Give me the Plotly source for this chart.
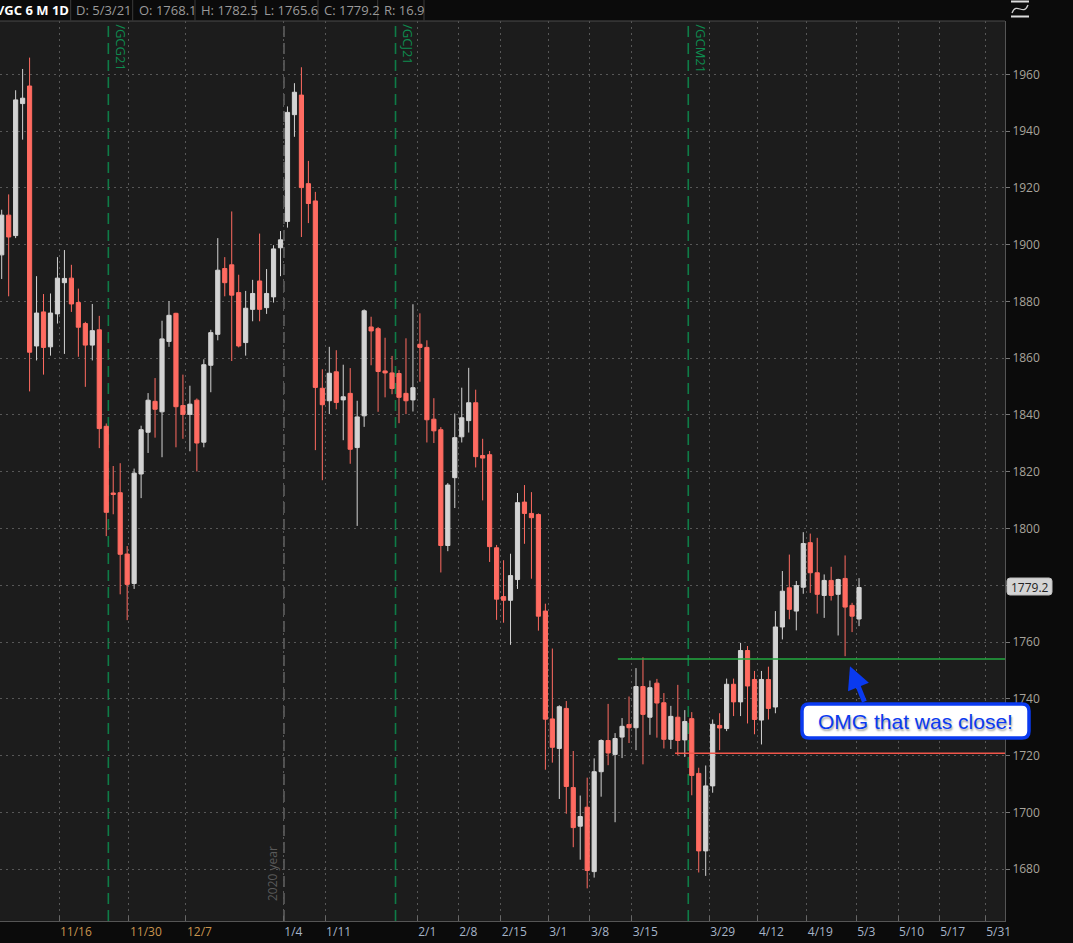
import plotly.graph_objects as go
import pandas as pd

# ---------------- data ----------------
holidays = ["2020-11-26", "2020-12-25", "2021-01-01", "2021-01-18", "2021-02-15", "2021-04-02"]
dates = pd.bdate_range("2020-11-03", periods=124, freq="C", holidays=holidays).strftime("%-m/%-d/%y").tolist()

opens = [1896.4, 1910.4, 1903.2, 1949.7, 1955.9, 1864.3, 1876.3, 1864.0, 1875.6, 1886.6,
         1888.2, 1879.6, 1872.2, 1864.6, 1870.0, 1836.0, 1812.5, 1812.6, 1791.0, 1780.6,
         1819.2, 1833.9, 1844.8, 1841.1, 1865.9, 1875.8, 1843.3, 1840.2, 1845.2, 1830.4,
         1857.5, 1868.4, 1891.6, 1892.9, 1883.1, 1865.5, 1877.2, 1887.2, 1877.8, 1881.6,
         1898.9, 1908.2, 1945.8, 1952.7, 1921.5, 1915.4, 1849.4, 1845.0, 1855.2, 1845.3,
         1847.6, 1828.5, 1839.7, 1871.0, 1870.4, 1855.5, 1854.8, 1854.6, 1847.6, 1845.3,
         1864.9, 1863.8, 1838.5, 1834.8, 1794.0, 1817.9, 1832.3, 1838.0, 1844.3, 1825.7,
         1826.0, 1793.2, 1776.0, 1774.7, 1782.0, 1809.3, 1805.3, 1804.9, 1770.9, 1732.9,
         1722.5, 1736.6, 1708.7, 1695.1, 1701.8, 1679.1, 1714.3, 1725.3, 1720.4, 1726.5,
         1730.9, 1729.8, 1744.3, 1733.5, 1745.5, 1738.6, 1725.7, 1733.5, 1725.5, 1733.0,
         1713.7, 1686.4, 1709.3, 1730.6, 1729.5, 1745.1, 1738.9, 1757.0, 1746.8, 1732.5,
         1746.8, 1737.1, 1765.3, 1779.1, 1770.9, 1779.3, 1795.0, 1784.4, 1776.4, 1781.7,
         1776.8, 1782.4, 1772.9, 1768.1]
highs = [1912.3, 1917.7, 1954.4, 1961.9, 1965.9, 1888.9, 1882.6, 1882.8, 1895.6, 1898.1,
         1892.9, 1884.5, 1872.8, 1879.1, 1874.9, 1837.0, 1822.0, 1823.0, 1793.8, 1821.1,
         1836.2, 1847.7, 1853.0, 1873.2, 1880.1, 1876.0, 1854.2, 1850.3, 1845.8, 1859.6,
         1870.0, 1902.3, 1895.6, 1911.7, 1889.4, 1883.7, 1887.6, 1903.9, 1891.4, 1899.8,
         1904.8, 1948.7, 1956.9, 1962.5, 1929.5, 1918.6, 1856.1, 1864.0, 1862.8, 1857.7,
         1856.5, 1845.0, 1877.2, 1874.6, 1871.0, 1867.2, 1860.8, 1855.8, 1867.0, 1879.0,
         1875.8, 1866.3, 1845.9, 1835.7, 1816.0, 1840.5, 1849.6, 1856.6, 1848.9, 1831.6,
         1827.3, 1794.2, 1788.8, 1791.1, 1812.5, 1815.3, 1812.8, 1805.3, 1773.5, 1757.7,
         1737.7, 1739.2, 1721.6, 1705.9, 1712.2, 1719.0, 1725.7, 1738.2, 1727.9, 1733.2,
         1740.8, 1750.8, 1754.6, 1746.4, 1747.0, 1742.0, 1737.5, 1744.9, 1736.0, 1735.3,
         1715.7, 1716.5, 1732.7, 1734.9, 1747.1, 1747.1, 1759.7, 1758.6, 1749.8, 1749.8,
         1751.3, 1770.9, 1785.0, 1790.8, 1781.5, 1798.7, 1798.2, 1796.7, 1783.8, 1786.5,
         1782.3, 1790.5, 1773.8, 1782.5]
lows = [1887.9, 1881.8, 1902.3, 1937.0, 1848.3, 1859.2, 1854.2, 1860.9, 1872.2, 1861.5,
        1876.3, 1860.5, 1849.9, 1859.2, 1828.3, 1797.3, 1805.0, 1776.8, 1767.7, 1778.7,
        1810.7, 1826.6, 1832.0, 1825.1, 1864.0, 1828.6, 1831.6, 1827.2, 1820.1, 1828.6,
        1848.0, 1866.3, 1881.8, 1859.0, 1863.8, 1860.9, 1873.0, 1873.0, 1875.6, 1879.6,
        1888.9, 1906.0, 1938.0, 1902.7, 1907.6, 1827.6, 1817.0, 1840.3, 1842.0, 1831.1,
        1822.8, 1800.9, 1835.8, 1857.5, 1841.1, 1846.2, 1847.3, 1837.1, 1840.3, 1841.2,
        1851.7, 1830.3, 1830.1, 1784.5, 1792.0, 1807.2, 1830.3, 1833.8, 1821.5, 1809.9,
        1788.2, 1767.8, 1766.8, 1759.0, 1778.7, 1794.6, 1782.3, 1764.0, 1715.0, 1717.5,
        1704.7, 1699.5, 1687.7, 1683.3, 1673.2, 1677.0, 1705.5, 1716.6, 1696.5, 1719.1,
        1724.4, 1721.9, 1716.9, 1727.3, 1726.3, 1722.5, 1722.3, 1720.0, 1719.5, 1706.0,
        1678.8, 1677.6, 1706.9, 1721.9, 1728.6, 1733.9, 1733.9, 1731.3, 1727.5, 1723.9,
        1732.7, 1734.9, 1760.9, 1768.0, 1764.1, 1777.0, 1777.3, 1770.0, 1768.5, 1774.6,
        1762.3, 1755.0, 1763.5, 1765.6]
closes = [1910.4, 1902.7, 1951.0, 1951.6, 1862.1, 1875.9, 1863.8, 1875.9, 1888.2, 1888.1,
          1879.1, 1870.9, 1864.6, 1869.7, 1835.2, 1805.7, 1812.0, 1790.9, 1780.3, 1819.5,
          1834.8, 1845.2, 1842.0, 1866.8, 1875.1, 1842.9, 1840.2, 1843.8, 1830.1, 1857.7,
          1869.0, 1891.0, 1886.6, 1882.2, 1864.3, 1877.6, 1882.8, 1877.2, 1882.8, 1898.5,
          1901.7, 1946.6, 1953.7, 1920.1, 1914.5, 1849.7, 1843.6, 1854.7, 1844.4, 1846.4,
          1827.9, 1839.3, 1876.7, 1869.6, 1855.3, 1854.8, 1849.3, 1846.2, 1845.0, 1849.6,
          1863.8, 1838.3, 1834.4, 1794.0, 1815.3, 1832.0, 1839.0, 1844.3, 1825.3, 1824.8,
          1793.6, 1775.1, 1774.7, 1783.4, 1809.1, 1805.3, 1803.8, 1769.1, 1732.8, 1722.9,
          1737.2, 1709.1, 1694.6, 1698.5, 1679.5, 1714.3, 1725.3, 1720.9, 1726.0, 1730.3,
          1729.8, 1744.3, 1734.5, 1743.9, 1738.5, 1725.7, 1733.8, 1725.3, 1732.0, 1713.0,
          1686.4, 1709.3, 1731.0, 1729.7, 1745.1, 1738.9, 1757.0, 1744.5, 1732.7, 1746.8,
          1736.6, 1765.3, 1777.9, 1771.5, 1779.9, 1794.7, 1784.4, 1776.8, 1781.7, 1776.4,
          1782.0, 1772.3, 1769.1, 1779.2]

x_idx = list(range(1, len(opens) + 1))

tick_pos = [9.22, 19.26, 27.44, 41.4, 47.4, 60.6, 66.5, 72.6, 79.4, 85.4, 91.4,
            102.5, 109.5, 116.5, 123.6, 129.6, 135.5, 142.1]
tick_text = ["11/16", "11/30", "12/7", "1/4", "1/11", "2/1", "2/8", "2/15", "3/1", "3/8",
             "3/15", "3/29", "4/12", "4/19", "5/3", "5/10", "5/17", "5/31"]
tick_year = [2020, 2020, 2020] + [2021] * 15
y_ticks = list(range(1680, 1961, 20))

roll_pos = [16.3, 57.5, 99.5]
roll_names = ["/GCG21", "/GCJ21", "/GCM21"]
year_pos = 41.5

support_level, support_start = 1754.0, 89.4
resist_level, resist_start = 1720.8, 97.6

header_title = "/GC 6 M 1D"
header_items = ["D: 5/3/21", "O: 1768.1", "H: 1782.5", "L: 1765.6", "C: 1779.2", "R: 16.9"]
last_price = 1779.2
callout_text = "OMG that was close!"
arrow_tip = (122.7, 1751.5)

# ---------------- geometry helpers (pixel -> paper) ----------------
W, H = 1073, 943
ML, MR, MT, MB = 0, 68, 21, 22
PW, PH = W - ML - MR, H - MT - MB


def X(px):
    return (px - ML) / PW


def Y(py):
    return (H - MB - py) / PH


def rounded(x0, x1, y0, y1, r):
    return (f"M {X(x0 + r)},{Y(y0)} L {X(x1 - r)},{Y(y0)} Q {X(x1)},{Y(y0)} {X(x1)},{Y(y0 + r)} "
            f"L {X(x1)},{Y(y1 - r)} Q {X(x1)},{Y(y1)} {X(x1 - r)},{Y(y1)} "
            f"L {X(x0 + r)},{Y(y1)} Q {X(x0)},{Y(y1)} {X(x0)},{Y(y1 - r)} "
            f"L {X(x0)},{Y(y0 + r)} Q {X(x0)},{Y(y0)} {X(x0 + r)},{Y(y0)} Z")


x_range = [0.756, 144.94]
y_range = [1661.7, 1978.8]

fig = go.Figure()
fig.add_trace(go.Candlestick(
    x=x_idx, open=opens, high=highs, low=lows, close=closes,
    text=dates,
    increasing=dict(line=dict(color="#d3d3d3", width=1), fillcolor="#d3d3d3"),
    decreasing=dict(line=dict(color="#ff6b61", width=1), fillcolor="#ff6b61"),
    whiskerwidth=0, showlegend=False,
))

shapes = []
for p in roll_pos:
    shapes.append(dict(type="line", xref="x", yref="paper", x0=p, x1=p, y0=0, y1=1,
                       line=dict(color="#0e7c47", width=1.6, dash="11px,6px"), layer="below"))
shapes.append(dict(type="line", xref="x", yref="paper", x0=year_pos, x1=year_pos, y0=0, y1=1,
                   line=dict(color="#5e5e5e", width=1.6, dash="11px,6px"), layer="below"))
shapes.append(dict(type="line", xref="x", yref="y", x0=support_start, x1=x_range[1],
                   y0=support_level, y1=support_level, line=dict(color="#22a83f", width=1.5)))
shapes.append(dict(type="line", xref="x", yref="y", x0=resist_start, x1=x_range[1],
                   y0=resist_level, y1=resist_level, line=dict(color="#f0564a", width=1.3)))
# header bar
shapes.append(dict(type="rect", xref="paper", yref="paper", x0=X(0), x1=X(1005), y0=Y(20.5), y1=Y(0),
                   fillcolor="#0b0b0b", line=dict(width=0)))
shapes.append(dict(type="line", xref="paper", yref="paper", x0=X(0), x1=X(1005), y0=1, y1=1,
                   line=dict(color="#4a4a4a", width=1)))
for sx in [70.7, 132.7, 195, 255, 318, 377.7, 424]:
    shapes.append(dict(type="line", xref="paper", yref="paper", x0=X(sx), x1=X(sx), y0=Y(0), y1=Y(20.5),
                       line=dict(color="#3a3a3a", width=1)))
# top-right icon
for iy in [1.5, 16.5]:
    shapes.append(dict(type="line", xref="paper", yref="paper", x0=X(1011), x1=X(1029), y0=Y(iy), y1=Y(iy),
                       line=dict(color="#dddddd", width=2)))
shapes.append(dict(type="path", xref="paper", yref="paper",
                   path=f"M {X(1012)},{Y(13)} C {X(1017)},{Y(1)} {X(1023)},{Y(17)} {X(1028)},{Y(5)}",
                   line=dict(color="#cccccc", width=1.3)))
# callout rounded box
bx0, bx1, by0, by1 = 802, 1029, 704, 738
shapes.append(dict(type="path", xref="paper", yref="paper", path=rounded(bx0, bx1, by0, by1, 7),
                   fillcolor="#ffffff", line=dict(color="#0a3af0", width=3.5)))
# last price tag
tx0, tx1, ty0, ty1 = 1007, 1052, 578, 595
shapes.append(dict(type="path", xref="paper", yref="paper", path=rounded(tx0, tx1, ty0, ty1, 3),
                   fillcolor="#d4d4d4", line=dict(color="#bdbdbd", width=1)))

ann = []
for p, name in zip(roll_pos, roll_names):
    ann.append(dict(x=p, xref="x", y=1, yref="paper", text=name, showarrow=False, textangle=90,
                    xanchor="left", yanchor="top", xshift=2, yshift=-1,
                    font=dict(family="Open Sans", size=13, color="#0e8a4f")))
ann.append(dict(x=year_pos, xref="x", y=Y(903), yref="paper", text="2020 year", showarrow=False,
                textangle=-90, xanchor="right", yanchor="bottom", xshift=-1,
                font=dict(family="Open Sans", size=12, color="#5a5a5a")))
ann.append(dict(x=X(-3), xref="paper", y=Y(10.5), yref="paper", text="<b>" + header_title + "</b>",
                showarrow=False, xanchor="left", yanchor="middle",
                font=dict(family="Open Sans", size=13, color="#ffffff")))
for hx, t in zip([74, 137, 199, 262, 322, 382], header_items):
    ann.append(dict(x=X(hx), xref="paper", y=Y(10.5), yref="paper", text=t, showarrow=False,
                    xanchor="left", yanchor="middle",
                    font=dict(family="Open Sans", size=13, color="#9a9a9a")))
ann.append(dict(x=X((tx0 + tx1) / 2), xref="paper", y=last_price, yref="y", text=str(last_price),
                showarrow=False, xanchor="center", yanchor="middle",
                font=dict(family="Open Sans", size=12, color="#222222")))
ann.append(dict(x=arrow_tip[0], xref="x", y=arrow_tip[1], yref="y", text="", showarrow=True,
                ax=15, ay=37, arrowhead=2, arrowsize=0.9, arrowwidth=5, arrowcolor="#0a3af0", standoff=0))
ann.append(dict(x=X((bx0 + bx1) / 2), xref="paper", y=Y((by0 + by1) / 2), yref="paper", text=callout_text,
                showarrow=False, xanchor="center", yanchor="middle",
                font=dict(family="Liberation Sans", size=21, color="#0a3af0", shadow="1px 2px 2px #a0a0a0")))

tick_colors = {2020: "#c8944e", 2021: "#a6b4c8"}
ticktext_styled = [f'<span style="color:{tick_colors[yr]}">{t}</span>' for t, yr in zip(tick_text, tick_year)]
y_ticktext = ["" if v == 1780 else str(v) for v in y_ticks]

fig.update_layout(
    width=W, height=H,
    margin=dict(l=ML, r=MR, t=MT, b=MB),
    paper_bgcolor="#0b0b0b", plot_bgcolor="#1c1c1c",
    showlegend=False, boxgap=0.4, boxgroupgap=0,
    shapes=shapes, annotations=ann,
    xaxis=dict(range=x_range, tickvals=tick_pos, ticktext=ticktext_styled,
               ticklabelposition="outside right", ticks="inside", ticklen=5, tickcolor="#666666",
               showgrid=True, gridcolor="#575757", griddash="2px,4px", gridwidth=1,
               showline=True, linecolor="#555555", linewidth=1, zeroline=False,
               rangeslider=dict(visible=False), fixedrange=True,
               tickfont=dict(family="Open Sans", size=12)),
    yaxis=dict(range=y_range, side="right", tickvals=y_ticks, ticktext=y_ticktext,
               ticks="outside", ticklen=4,
               tickcolor="#777777", showgrid=True, gridcolor="#575757", griddash="2px,4px", gridwidth=1,
               showline=True, linecolor="#555555", linewidth=1, zeroline=False,
               tickfont=dict(family="Open Sans", size=12, color="#a8a49c")),
)

fig.write_html("out.html", config={"displayModeBar": False},
               post_script="document.body.style.margin='0';document.body.style.overflow='hidden';")
